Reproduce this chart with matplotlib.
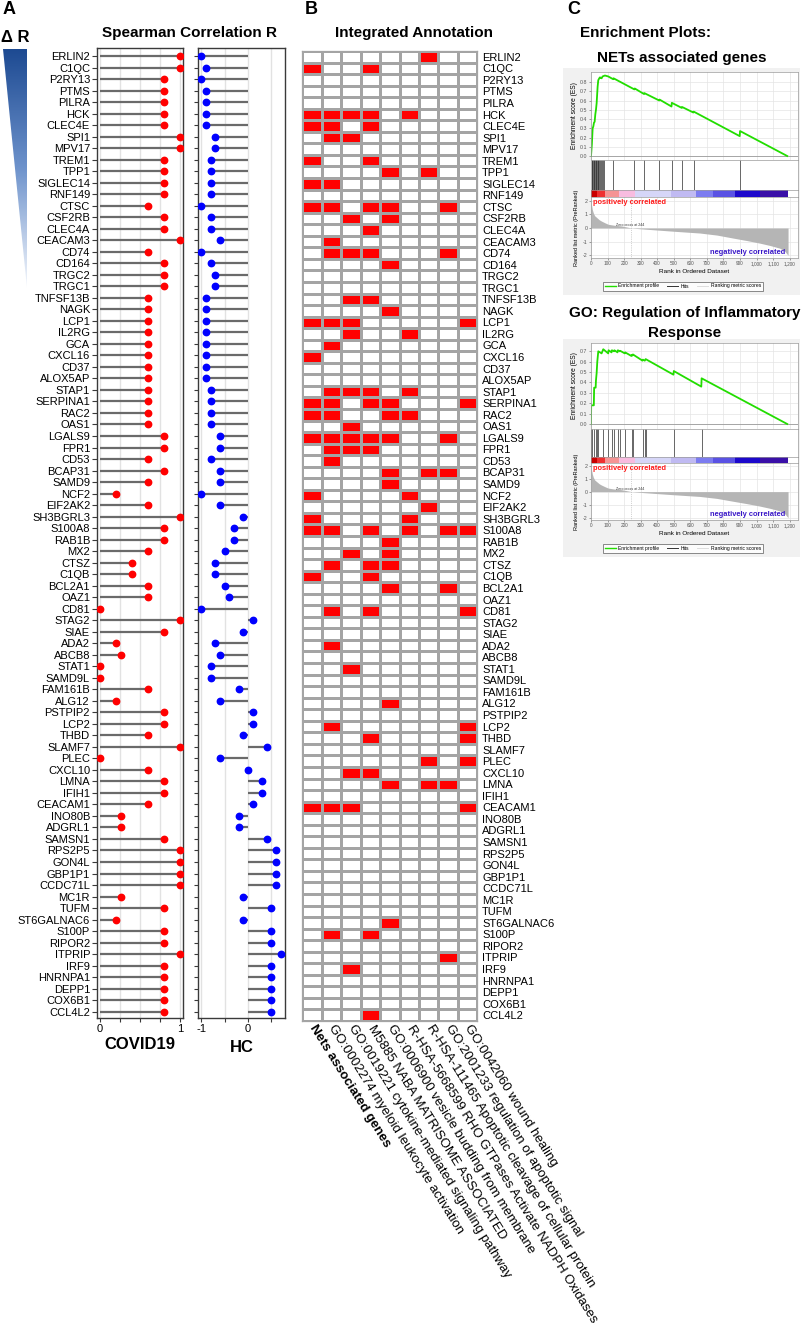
import numpy as np
import matplotlib
matplotlib.use("Agg")
import matplotlib.pyplot as plt
from matplotlib.patches import Polygon
from matplotlib.lines import Line2D
from matplotlib.colors import LinearSegmentedColormap, ListedColormap

plt.rcParams["font.family"] = ["Liberation Sans", "DejaVu Sans"]

W, H = 806, 1339

# ---- panel A / B data (genes ordered by delta R) ----
genes = ["ERLIN2", "C1QC", "P2RY13", "PTMS", "PILRA", "HCK", "CLEC4E", "SPI1", "MPV17",
         "TREM1", "TPP1", "SIGLEC14", "RNF149", "CTSC", "CSF2RB", "CLEC4A", "CEACAM3",
         "CD74", "CD164", "TRGC2", "TRGC1", "TNFSF13B", "NAGK", "LCP1", "IL2RG",
         "GCA", "CXCL16", "CD37", "ALOX5AP", "STAP1", "SERPINA1", "RAC2", "OAS1",
         "LGALS9", "FPR1", "CD53", "BCAP31", "SAMD9", "NCF2", "EIF2AK2", "SH3BGRL3",
         "S100A8", "RAB1B", "MX2", "CTSZ", "C1QB", "BCL2A1", "OAZ1", "CD81", "STAG2",
         "SIAE", "ADA2", "ABCB8", "STAT1", "SAMD9L", "FAM161B", "ALG12", "PSTPIP2",
         "LCP2", "THBD", "SLAMF7", "PLEC", "CXCL10", "LMNA", "IFIH1", "CEACAM1",
         "INO80B", "ADGRL1", "SAMSN1", "RPS2P5", "GON4L", "GBP1P1", "CCDC71L", "MC1R",
         "TUFM", "ST6GALNAC6", "S100P", "RIPOR2", "ITPRIP", "IRF9", "HNRNPA1", "DEPP1",
         "COX6B1", "CCL4L2"]

covid_r = [1.0, 1.0, 0.8, 0.8, 0.8, 0.8, 0.8, 1.0, 1.0, 0.8, 0.8, 0.8, 0.8, 0.6, 0.8, 0.8, 1.0,
           0.6, 0.8, 0.8, 0.8, 0.6, 0.6, 0.6, 0.6,
           0.6, 0.6, 0.6, 0.6, 0.6, 0.6, 0.6, 0.6, 0.8, 0.8, 0.6, 0.8, 0.6, 0.2, 0.6, 1.0,
           0.8, 0.8, 0.6, 0.4, 0.4, 0.6, 0.6, 0.0, 1.0, 0.8, 0.2, 0.26, 0.0,
           0.0, 0.6, 0.2, 0.8, 0.8, 0.6, 1.0, 0.0, 0.6, 0.8, 0.8, 0.6, 0.26, 0.26, 0.8,
           1.0, 1.0, 1.0, 1.0, 0.26, 0.8, 0.2, 0.8, 0.8, 1.0, 0.8, 0.8, 0.8, 0.8, 0.8]

hc_r = [-1.0, -0.9, -1.0, -0.9, -0.9, -0.9, -0.9, -0.7, -0.7, -0.8, -0.8, -0.8, -0.8, -1.0,
        -0.8, -0.8, -0.6, -1.0, -0.8, -0.7, -0.7, -0.9, -0.9, -0.9, -0.9,
        -0.9, -0.9, -0.9, -0.9, -0.8, -0.8, -0.8, -0.8, -0.6, -0.6, -0.8, -0.6, -0.6, -1.0,
        -0.6, -0.1, -0.3, -0.3, -0.5, -0.7, -0.7, -0.5, -0.4, -1.0, 0.1, -0.1, -0.7, -0.6, -0.8,
        -0.8, -0.2, -0.6, 0.1, 0.1, -0.1, 0.4, -0.6, 0.0, 0.3, 0.3, 0.1, -0.2, -0.2, 0.4,
        0.6, 0.6, 0.6, 0.6, -0.1, 0.5, -0.1, 0.5, 0.5, 0.7, 0.5, 0.5, 0.5, 0.5, 0.5]

pathways = ["Nets associated genes",
            "GO:0002274 myeloid leukocyte activation",
            "GO:0019221 cytokine-mediated signaling pathway",
            "M5885 NABA MATRISOME ASSOCIATED",
            "GO:0006900 vesicle budding from membrane",
            "R-HSA-5668599 RHO GTPases Activate NADPH Oxidases",
            "R-HSA-111465 Apoptotic cleavage of cellular protein",
            "GO:2001233 regulation of apoptotic signal",
            "GO:0042060 wound healing"]

# annotated pathway columns for each gene (same order as genes)
annot = [[6], [0, 3], [], [], [], [0, 1, 2, 3, 5], [0, 1, 3], [1, 2], [],
         [0, 3], [4, 6], [0, 1], [], [0, 1, 3, 4, 7], [2, 4], [3], [1],
         [1, 2, 3, 7], [4], [], [], [2, 3], [4], [0, 1, 2, 8], [2, 5],
         [1], [0], [], [], [1, 2, 3, 5], [0, 1, 3, 4, 8], [0, 1, 4, 5], [2],
         [0, 1, 2, 3, 4, 7], [1, 2, 3], [1], [4, 6, 7], [4], [0, 5], [6], [0, 5],
         [0, 1, 3, 5, 7, 8], [4], [2, 4], [1, 3, 4], [0, 3], [4, 7], [], [1, 3, 8], [],
         [], [1], [], [2], [], [], [4], [],
         [1, 8], [3, 8], [], [6, 8], [2, 3], [4, 6, 7], [], [0, 1, 2, 8],
         [], [], [], [], [], [], [], [],
         [], [4], [1, 3], [], [7], [2], [], [],
         [], [3]]

# ---- panel C data ----
es1_rank = [0, 5, 10, 14, 18, 22, 26, 30, 34, 40, 44, 50, 54, 64, 70, 84, 104, 134, 136,
            262, 264, 320, 322, 412, 414, 486, 488, 548, 550, 618, 620, 898, 900, 1185]
es1_val = [0.0, 0.12, 0.30, 0.32, 0.36, 0.37, 0.45, 0.50, 0.57, 0.75, 0.82, 0.84, 0.85, 0.84,
           0.86, 0.87, 0.86, 0.83, 0.84, 0.72, 0.73, 0.67, 0.68, 0.60, 0.61, 0.535, 0.575,
           0.52, 0.53, 0.47, 0.48, 0.215, 0.27, 0.0]
hits1 = [4, 8, 12, 16, 20, 24, 28, 32, 36, 40, 44, 48, 52, 58, 64, 70, 80, 135, 262, 320,
         413, 487, 550, 620, 900]

es2_rank = [0, 1, 17, 19, 28, 30, 34, 38, 44, 64, 74, 104, 106, 124, 126, 139, 141, 160, 162,
            174, 176, 204, 206, 244, 246, 251, 253, 311, 313, 325, 330, 498, 500, 666, 668, 1185]
es2_val = [0.0, 0.18, 0.18, 0.35, 0.35, 0.42, 0.49, 0.60, 0.70, 0.68, 0.72, 0.68, 0.71, 0.69,
           0.71, 0.70, 0.71, 0.69, 0.71, 0.70, 0.705, 0.68, 0.69, 0.655, 0.665, 0.66, 0.67,
           0.61, 0.62, 0.61, 0.625, 0.475, 0.51, 0.36, 0.44, 0.0]
hits2 = [1, 9, 19, 29, 39, 45, 72, 105, 125, 140, 162, 175, 205, 245, 252, 312, 326, 330,
         500, 668]

metric_rank = [0, 3, 8, 14, 22, 34, 50, 64, 84, 104, 140, 184, 244, 300, 376, 500, 657, 760,
               858, 940, 1019, 1080, 1140, 1170, 1190]
metric_val = [2.1, 1.7, 1.35, 1.1, 0.9, 0.77, 0.6, 0.5, 0.38, 0.27, 0.2, 0.15, 0.0, -0.06,
              -0.13, -0.24, -0.37, -0.52, -0.74, -0.92, -1.11, -1.28, -1.48, -1.7, -2.0]

band_start = [0, 34, 84, 171, 265, 486, 637, 738, 868, 1019]
band_end = [34, 84, 171, 265, 486, 637, 738, 868, 1019, 1190]
band_colors = ["#c80000", "#ee3030", "#f59494", "#f8bce0", "#d6d6f8", "#c0baf2",
               "#7c7cf0", "#5a52e4", "#1c08cc", "#3a10a8"]

fig = plt.figure(figsize=(W / 100, H / 100), dpi=100)


def box(x0, y0, x1, y1):
    return [x0 / W, 1 - y1 / H, (x1 - x0) / W, (y1 - y0) / H]


def ftext(x, y, s, **kw):
    fig.text(x / W, 1 - y / H, s, **kw)


# ---------------- Panel A ----------------
ftext(3, 10, "A", fontsize=13, fontweight="bold", va="center")
ftext(15, 38, "Δ R", fontsize=12, fontweight="bold", ha="center", va="center")
ftext(189, 33, "Spearman Correlation R", fontsize=11, fontweight="bold", ha="center", va="center")

# gradient triangle
ax_tri = fig.add_axes(box(0, 45, 30, 292))
ax_tri.set_xlim(0, 30)
ax_tri.set_ylim(292, 45)
ax_tri.axis("off")
grad = np.linspace(0, 1, 256).reshape(-1, 1)
tri_cmap = LinearSegmentedColormap.from_list("tri", ["#1d4a92", "#6e93cc", "#f4f7fc"])
im = ax_tri.imshow(grad, cmap=tri_cmap, extent=(3, 27, 288, 49), aspect="auto")
tri = Polygon([(3, 49), (27, 49), (27, 288)], closed=True, transform=ax_tri.transData,
              facecolor="none", edgecolor="none")
ax_tri.add_patch(tri)
im.set_clip_path(tri)

n = len(genes)
ypos = np.arange(n)
spine_col = "#3a3a3a"

ax_c = fig.add_axes(box(97, 48, 183, 1018))
ax_c.hlines(ypos, 0, covid_r, color="#6a6a6a", lw=1.6, zorder=2)
ax_c.plot(covid_r, ypos, "o", color="#ff0000", ms=4.6, zorder=3)
ax_c.set_xlim(-0.04, 1.04)
ax_c.set_ylim(n - 1 + 0.55, -0.7)
ax_c.set_xticks([0, 0.25, 0.5, 0.75, 1])
ax_c.set_xticklabels(["0", "", "", "", "1"], fontsize=8)
ax_c.set_yticks(ypos)
ax_c.set_yticklabels(genes, fontsize=8)
ax_c.tick_params(axis="y", length=3.5, width=0.8, pad=1.5, color=spine_col)
ax_c.tick_params(axis="x", length=3, width=0.8, pad=1.5, color=spine_col)
ax_c.grid(axis="x", color="#e2e2e2", lw=1.0, zorder=0)
ax_c.set_axisbelow(True)
for s in ax_c.spines.values():
    s.set_color(spine_col)
    s.set_linewidth(1.0)
ax_c.set_xlabel("COVID19", fontsize=12, fontweight="bold", labelpad=2)

ax_h = fig.add_axes(box(198, 48, 285, 1018))
ax_h.hlines(ypos, 0, hc_r, color="#6a6a6a", lw=1.6, zorder=2)
ax_h.plot(hc_r, ypos, "o", color="#0000ff", ms=4.6, zorder=3)
ax_h.set_xlim(-1.07, 0.79)
ax_h.set_ylim(n - 1 + 0.55, -0.7)
ax_h.set_xticks([-1, -0.5, 0, 0.5])
ax_h.set_xticklabels(["-1", "", "0", ""], fontsize=8)
ax_h.set_yticks(ypos)
ax_h.set_yticklabels([])
ax_h.tick_params(axis="y", length=3, width=0.8, color=spine_col)
ax_h.tick_params(axis="x", length=3, width=0.8, pad=1.5, color=spine_col)
ax_h.grid(axis="x", color="#e2e2e2", lw=1.0, zorder=0)
ax_h.set_axisbelow(True)
for s in ax_h.spines.values():
    s.set_color(spine_col)
    s.set_linewidth(1.0)
ax_h.set_xlabel("HC", fontsize=12, fontweight="bold", labelpad=4)

# ---------------- Panel B ----------------
ftext(305, 10, "B", fontsize=13, fontweight="bold", va="center")
ftext(414, 33, "Integrated Annotation", fontsize=11, fontweight="bold", ha="center", va="center")

mat = np.zeros((n, len(pathways)))
for i, cols in enumerate(annot):
    for j in cols:
        mat[i, j] = 1

ax_b = fig.add_axes(box(302.3, 51, 477.3, 1021))
ax_b.pcolormesh(mat, cmap=ListedColormap(["#ffffff", "#ff0000"]), vmin=0, vmax=1,
                edgecolors="#a4a4a4", linewidth=0.9)
ax_b.set_xlim(0, len(pathways))
ax_b.set_ylim(n, 0)
ax_b.yaxis.tick_right()
ax_b.set_yticks(ypos + 0.5)
ax_b.set_yticklabels(genes, fontsize=8)
ax_b.tick_params(axis="y", length=0, pad=3.5)
ax_b.set_xticks([])
for s in ax_b.spines.values():
    s.set_color("#a4a4a4")
    s.set_linewidth(0.9)
for j, name in enumerate(pathways):
    ax_b.text(j + 0.5, n + 0.45, name, rotation=-58, rotation_mode="anchor",
              ha="left", va="center", fontsize=9.5,
              fontweight="bold" if j == 0 else "normal")

# ---------------- Panel C ----------------
ftext(567, 10, "C", fontsize=13, fontweight="bold", va="center")
ftext(646, 33, "Enrichment Plots:", fontsize=11, fontweight="bold", ha="center", va="center")


def gsea(y_top, es_rank, es_val, hits, es_ticks, es_lim, m_lim, heights, legend_y):
    es_h, hit_h, band_h, m_h = heights
    y1 = y_top + es_h
    y2 = y1 + hit_h
    y3 = y2 + band_h
    y4 = y3 + m_h
    # light grey panel behind the whole GSEA plot
    bg = fig.add_axes(box(563, y_top - 4, 800, legend_y + 9))
    bg.set_zorder(-5)
    bg.set_facecolor("#f1f1f1")
    bg.set_xticks([])
    bg.set_yticks([])
    for s in bg.spines.values():
        s.set_visible(False)

    xl = (0, 1250)
    grid_kw = dict(color="#e4e4e4", lw=0.5)

    ax1 = fig.add_axes(box(591, y_top, 798, y1))
    ax1.set_xlim(xl)
    ax1.set_ylim(es_lim)
    ax1.set_xticks(np.arange(0, 1300, 100))
    ax1.set_xticklabels([])
    ax1.set_yticks(es_ticks)
    ax1.set_yticklabels(["%.1f" % t for t in es_ticks], fontsize=3.8)
    ax1.tick_params(length=1.5, width=0.4, pad=1, colors="#555555")
    ax1.grid(True, **grid_kw)
    ax1.set_axisbelow(True)
    ax1.axhline(0, color="#9a9a9a", lw=0.6)
    ax1.plot(es_rank, es_val, color="#22dd00", lw=1.3)
    ax1.set_ylabel("Enrichment score (ES)", fontsize=4.8, labelpad=1.5)

    ax2 = fig.add_axes(box(591, y1, 798, y2))
    ax2.set_xlim(xl)
    ax2.set_ylim(0, 1)
    ax2.vlines(hits, 0, 1, color="#2a2a2a", lw=0.5)
    ax2.set_xticks([])
    ax2.set_yticks([])

    ax3 = fig.add_axes(box(591, y2, 798, y3))
    ax3.set_xlim(xl)
    ax3.set_ylim(0, 1)
    for a, b, c in zip(band_start, band_end, band_colors):
        ax3.axvspan(a, b, color=c, lw=0)
    ax3.set_xticks([])
    ax3.set_yticks([])

    ax4 = fig.add_axes(box(591, y3, 798, y4))
    ax4.set_xlim(xl)
    ax4.set_ylim(m_lim)
    ax4.fill_between(metric_rank, metric_val, 0, color="#b5b5b5", lw=0)
    ax4.axvline(244, color="#aaaaaa", lw=0.5, ls=":")
    ax4.text(150, 0.08, "Zero cross at 244", fontsize=2.6, va="bottom", color="#333333")
    ax4.text(12, m_lim[1] - 0.15, "positively correlated", color="#ff1a1a", fontsize=5.4,
             fontweight="bold", va="top")
    ax4.text(1170, m_lim[0] + 0.15, "negatively correlated", color="#3a18c8", fontsize=5.4,
             fontweight="bold", va="bottom", ha="right")
    ax4.set_yticks([-2, -1, 0, 1, 2])
    ax4.set_yticklabels(["-2", "-1", "0", "1", "2"], fontsize=3.8)
    ax4.set_xticks(np.arange(0, 1300, 100))
    ax4.set_xticklabels(["0", "100", "200", "300", "400", "500", "600", "700", "800",
                         "900", "1,000", "1,100", "1,200"], fontsize=3.4)
    ax4.tick_params(length=1.5, width=0.4, pad=1, colors="#555555")
    ax4.grid(True, **grid_kw)
    ax4.set_axisbelow(True)
    ax4.set_ylabel("Ranked list metric (PreRanked)", fontsize=4.0, labelpad=3)
    ax4.set_xlabel("Rank in Ordered Dataset", fontsize=4.6, labelpad=1.5)

    for a in (ax1, ax2, ax3, ax4):
        for s in a.spines.values():
            s.set_color("#9a9a9a")
            s.set_linewidth(0.5)

    handles = [Line2D([], [], color="#22dd00", lw=1.0),
               Line2D([], [], color="#333333", lw=0.7),
               Line2D([], [], color="#dddddd", lw=0.7)]
    leg = fig.legend(handles, ["Enrichment profile", "Hits", "Ranking metric scores"],
                     loc="center", bbox_to_anchor=(683 / W, 1 - legend_y / H), ncol=3,
                     fontsize=3.6, handlelength=2.2, columnspacing=1.6, borderpad=0.4,
                     handletextpad=0.5, frameon=True, fancybox=False)
    leg.get_frame().set_edgecolor("#555555")
    leg.get_frame().set_linewidth(0.6)


ftext(682, 58, "NETs associated genes", fontsize=11, fontweight="bold", ha="center", va="center")
gsea(72, es1_rank, es1_val, hits1, np.arange(0, 0.85, 0.1), (-0.043, 0.908), (-2.2, 2.27),
     (88, 30, 7, 61), 286)

ftext(685, 313, "GO: Regulation of Inflammatory", fontsize=11, fontweight="bold", ha="center",
      va="center")
ftext(685, 333, "Response", fontsize=11, fontweight="bold", ha="center", va="center")
gsea(343, es2_rank, es2_val, hits2, np.arange(0, 0.75, 0.1), (-0.048, 0.78), (-2.18, 2.2),
     (86, 28, 6, 57), 548)

fig.savefig("out.png", dpi=100)
